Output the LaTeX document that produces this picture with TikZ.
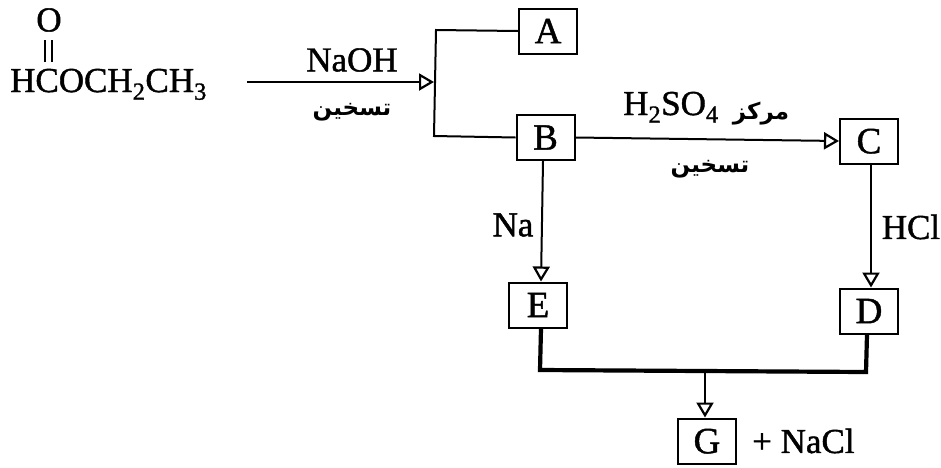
\documentclass[tikz,border=0pt]{standalone}
\usepackage{fontspec}
\setmainfont{Liberation Serif}[FakeBold=1.2]
\newfontfamily\arabicfont[Script=Arabic]{DejaVu Sans}
\TeXXeTstate=1
\usetikzlibrary{arrows.meta}
\tikzset{
  x=1pt,y=-1pt,
  letterbox/.style={draw=black,line width=2pt,minimum width=58pt,minimum height=45pt,inner sep=0pt,text depth=0pt,font=\fontsize{37}{37}\selectfont},
  lbl/.style={inner sep=0pt,font=\fontsize{35}{35}\selectfont},
  arlbl/.style={inner sep=0pt,font=\arabicfont\bfseries\fontsize{23}{27}\selectfont},
  wire/.style={draw=black,line width=2pt},
  heavy/.style={draw=black,line width=4.2pt},
  arrowline/.style={wire,-{Triangle[open,length=15pt,width=17pt,line width=2.2pt]}},
}
\begin{document}
\begin{tikzpicture}
\useasboundingbox (0,0) rectangle (941,467);
\fill[white] (0,0) rectangle (941,467);
% boxes
\node[letterbox] (A) at (548,31) {A};
\node[letterbox] (B) at (545.5,137.5) {B};
\node[letterbox] (C) at (869,141) {C};
\node[letterbox] (E) at (538,305) {E};
\node[letterbox] (D) at (869,311) {D};
\node[letterbox] (G) at (707,441) {G};
% formula
\node[lbl,anchor=base west] (F) at (10,92) {HCOCH\textsubscript{2}CH\textsubscript{3}};
\node[lbl] (O) at (49,20) {O};
\coordinate (db1a) at (45,40); \coordinate (db1b) at (45,62);
\coordinate (db2a) at (52,40); \coordinate (db2b) at (52,62);
\draw[line width=1.2pt] (db1a) -- (db1b) (db2a) -- (db2b);
% labels
\node[lbl] (naoh) at (352,60) {NaOH};
\node[arlbl] (t1) at (352,112) {\beginR تسخين\endR};
\node[lbl,anchor=base west] (h2so4) at (623,115) {H\textsubscript{2}SO\textsubscript{4}};
\node[arlbl] (mk) at (761,114) {\beginR مركز\endR};
\node[arlbl] (t2) at (710,169) {\beginR تسخين\endR};
\node[lbl] (na) at (513,225) {Na};
\node[lbl] (hcl) at (911,227) {HCl};
\node[lbl,anchor=west] (nacl) at (752,441) {+ NaCl};
% connectors
\coordinate (start) at (247,82);
\coordinate (jm) at (434,82);
\coordinate (jt) at (436,30);
\coordinate (jb) at (434,136);
\draw[arrowline] (start) -- (jm);
\draw[wire] (A.west) -- (jt) -- (jb) -- (B.west);
\draw[arrowline] (B.east) -- (C.west);
\draw[arrowline] (B.south -| 543,0) -- (E.north -| 541,0);
\draw[arrowline] (C.south -| 871,0) -- (D.north -| 871,0);
\coordinate (el) at (540,370);
\coordinate (er) at (866,372);
\coordinate (gt) at (705,371);
\draw[heavy] (E.south -| 541,0) -- (el) -- (er) -- (D.south -| 867,0);
\draw[arrowline] (gt) -- (G.north -| 705,0);
\end{tikzpicture}
\end{document}
